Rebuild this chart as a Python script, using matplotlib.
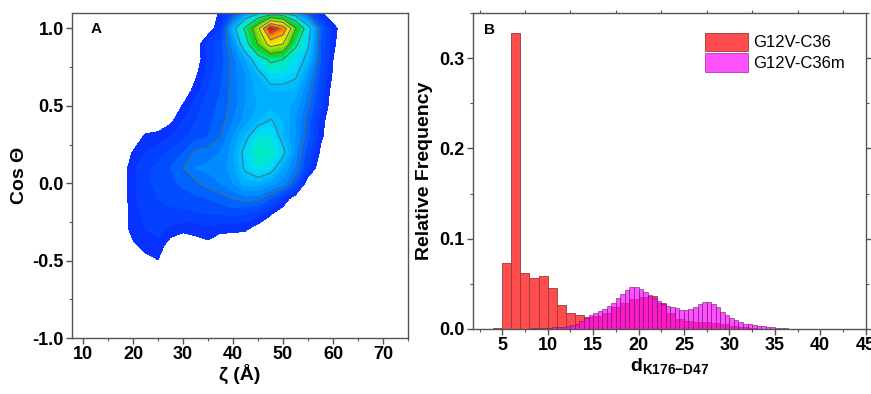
import numpy as np
import matplotlib
matplotlib.use('Agg')
import matplotlib.pyplot as plt
from matplotlib.colors import LinearSegmentedColormap
from matplotlib.ticker import MultipleLocator

plt.rcParams['font.family'] = ['Liberation Sans', 'DejaVu Sans']
plt.rcParams['font.weight'] = 'bold'
plt.rcParams['axes.unicode_minus'] = False
plt.rcParams['mathtext.fontset'] = 'custom'
plt.rcParams['mathtext.rm'] = 'Liberation Sans:bold'
plt.rcParams['mathtext.it'] = 'Liberation Sans:bold'

# ---- panel A: density of (zeta, cos theta) ----
zeta = [15, 17.5, 20, 22.5, 25, 27.5, 30, 32.5, 35, 37.5, 40,
        42.5, 45, 47.5, 50, 52.5, 55, 57.5, 60, 62.5, 65]
cos_theta = [-0.6, -0.5, -0.4, -0.3, -0.2, -0.1, 0.0, 0.1, 0.2,
             0.3, 0.4, 0.5, 0.6, 0.7, 0.8, 0.9, 1.0, 1.1]
density = [
    [0, 0, 0, 0, 0, 0, 0, 0, 0, 0, 0, 0, 0, 0, 0, 0, 0, 0, 0, 0, 0],
    [0, 0, 0, 1.0, 1.9, 0, 0, 0, 0, 0, 0, 0, 0, 0, 0, 0, 0, 0, 0, 0, 0],
    [0, 0, 1.5, 3, 3.5, 0.5, 0, 0.5, 1.2, 0.3, 0, 0, 0, 0, 0, 0, 0, 0, 0, 0, 0],
    [0, 0, 3, 4, 4.5, 3.5, 2.5, 3, 3.5, 2.5, 2.5, 2.2, 0.5, 0, 0, 0, 0, 0, 0, 0, 0],
    [0, 0, 3, 4.5, 5.5, 5.5, 5.5, 5.5, 6, 6, 6.5, 6, 4.5, 2.2, 0, 0, 0, 0, 0, 0, 0],
    [0, 0, 3.5, 5, 6, 6.5, 7, 7.5, 8, 9, 10, 11, 10.5, 8, 4, 0, 0, 0, 0, 0, 0],
    [0, 0, 3.5, 5.5, 6.5, 7.5, 8.5, 9.5, 11, 12, 14, 17, 17, 15, 13, 8, 0, 0, 0, 0, 0],
    [0, 0, 3.5, 5.5, 6.5, 8, 10, 12, 12.5, 13, 15, 21, 25, 22.5, 16, 11.5, 5, 0, 0, 0, 0],
    [0, 0, 2.2, 4, 5, 6.5, 8, 10.5, 11, 12, 15, 22, 29, 28, 21.5, 13, 6.5, 1.5, 0, 0, 0],
    [0, 0, 0, 2.5, 3, 4, 5.5, 7, 8, 10, 14, 18.5, 25, 25, 18, 14, 8.5, 2.5, 0, 0, 0],
    [0, 0, 0, 0, 0, 1.5, 4, 6, 7.5, 9, 12, 15, 18, 20.5, 18, 14, 9, 3, 0, 0, 0],
    [0, 0, 0, 0, 0, 0, 2.2, 5, 7, 8.5, 11, 14, 16, 17, 17, 15, 10.5, 5, 0, 0, 0],
    [0, 0, 0, 0, 0, 0, 0, 3, 6, 8, 11, 14, 17, 18, 18, 17, 12, 6, 0.5, 0, 0],
    [0, 0, 0, 0, 0, 0, 0, 1.5, 5, 7.5, 11, 14, 18, 23, 23, 21, 14, 7, 1.5, 0, 0],
    [0, 0, 0, 0, 0, 0, 0, 0, 4.5, 7, 11, 16, 24, 32, 30, 24, 18, 8, 2, 0, 0],
    [0, 0, 0, 0, 0, 0, 0, 0, 5, 7, 13, 25, 46, 66, 60, 32, 21, 8, 2.5, 0, 0],
    [0, 0, 0, 0, 0, 0, 0, 0, 0, 4, 17, 32, 56, 100, 85, 46, 23, 9, 3, 0, 0],
    [0, 0, 0, 0, 0, 0, 0, 0, 0, 2.5, 7, 13, 18, 21, 20, 14, 8, 2.5, 0, 0, 0],
]

# ---- panel B: histograms of d(K176-D47) ----
c36_bins = [4, 5, 6, 7, 8, 9, 10, 11, 12, 13, 14, 15, 16, 17, 18, 19, 20,
            21, 22, 23, 24, 25, 26, 27, 28, 29, 30, 31, 32]
c36_freq = [0.001, 0.073, 0.328, 0.062, 0.056, 0.059, 0.045, 0.027, 0.018,
            0.0155, 0.013, 0.014, 0.018, 0.024, 0.029, 0.033, 0.035, 0.036,
            0.029, 0.018, 0.011, 0.009, 0.008, 0.008, 0.007, 0.005, 0.003,
            0.002, 0.001]
c36m_bins = list(np.arange(8.0, 37.0, 0.5))
c36m_freq = [0.001, 0.001, 0.001, 0.0015, 0.0015, 0.002, 0.002, 0.0025,
             0.003, 0.004, 0.006, 0.009, 0.012, 0.015, 0.018, 0.020, 0.022,
             0.025, 0.029, 0.034, 0.039, 0.043, 0.046, 0.046, 0.044, 0.041,
             0.038, 0.034, 0.031, 0.028, 0.026, 0.024, 0.023, 0.021, 0.021,
             0.022, 0.024, 0.028, 0.030, 0.030, 0.028, 0.024, 0.019, 0.015,
             0.012, 0.010, 0.008, 0.006, 0.005, 0.004, 0.003, 0.003, 0.002,
             0.002, 0.001, 0.001, 0.0007, 0.0005]

cmap = LinearSegmentedColormap.from_list('origin_rainbow', [
    (0.00, '#0a1eff'), (0.08, '#0058ff'), (0.15, '#00a0ff'),
    (0.22, '#00d8ff'), (0.30, '#00f0b0'), (0.36, '#00e060'),
    (0.42, '#10d010'), (0.55, '#90e000'), (0.65, '#f0f000'),
    (0.78, '#ffb000'), (0.90, '#ff5000'), (1.00, '#ff0000')])

fig = plt.figure(figsize=(8.71, 3.94), dpi=100)
axA = fig.add_axes([0.0827, 0.142, 0.3857, 0.825])
axB = fig.add_axes([0.5427, 0.165, 0.4512, 0.802])

spine_col = '#555555'

Z, C = np.meshgrid(zeta, cos_theta)
D = np.array(density)
axA.contourf(Z, C, D, levels=np.arange(2, 101, 2), cmap=cmap, vmin=0, vmax=100)
axA.contour(Z, C, D, levels=[10, 20, 30, 45, 60, 75, 90],
            colors='#4f6a72', linewidths=0.7)
axA.set_xlim(7.8, 75)
axA.set_ylim(-1.0, 1.1)
axA.set_xticks([10, 20, 30, 40, 50, 60, 70])
axA.set_yticks([-1.0, -0.5, 0.0, 0.5, 1.0])
axA.set_yticklabels(['-1.0', '-0.5', '0.0', '0.5', '1.0'])
axA.xaxis.set_minor_locator(MultipleLocator(5))
axA.yaxis.set_minor_locator(MultipleLocator(0.25))
axA.set_xlabel('ζ (Å)', fontsize=14, fontweight='bold', labelpad=0)
axA.set_ylabel('Cos Θ', fontsize=14, fontweight='bold', labelpad=3)
axA.text(0.055, 0.95, 'A', transform=axA.transAxes, fontsize=11,
         fontweight='bold', va='center')

axB.bar(c36_bins, c36_freq, width=1.0, align='edge', color='#ff4d4d',
        edgecolor='#9a3a3a', linewidth=0.6, label='G12V-C36')
axB.bar(c36m_bins, c36m_freq, width=0.5, align='edge', color='#ff00ff',
        alpha=0.68, edgecolor='#6e1a6e', linewidth=0.6, label='G12V-C36m')
axB.set_xlim(1.75, 45)
axB.set_ylim(0, 0.35)
axB.set_xticks([5, 10, 15, 20, 25, 30, 35, 40, 45])
axB.set_yticks([0.0, 0.1, 0.2, 0.3])
axB.xaxis.set_minor_locator(MultipleLocator(2.5))
axB.yaxis.set_minor_locator(MultipleLocator(0.05))
axB.set_xlabel(r'd$_{\mathrm{K176{-}D47}}$', fontsize=14, fontweight='bold',
               labelpad=1)
axB.set_ylabel('Relative Frequency', fontsize=14, fontweight='bold')
axB.text(0.03, 0.946, 'B', transform=axB.transAxes, fontsize=11,
         fontweight='bold', va='center')
axB.legend(loc='upper right', bbox_to_anchor=(0.985, 0.985), frameon=False,
           prop={'size': 12, 'weight': 'normal'}, handlelength=2.6,
           handleheight=1.3, handletextpad=0.3, labelspacing=0.15)

for ax in (axA, axB):
    for s in ax.spines.values():
        s.set_color(spine_col)
        s.set_linewidth(1.0)
    ax.tick_params(which='major', direction='out', length=4, width=1,
                   color=spine_col, labelsize=13, pad=2)
    ax.tick_params(which='minor', direction='out', length=2.5, width=0.8,
                   color=spine_col)
axB.tick_params(which='both', top=True, right=True)
axB.tick_params(axis='x', which='major', top=False)

fig.savefig('out.png', dpi=100)
